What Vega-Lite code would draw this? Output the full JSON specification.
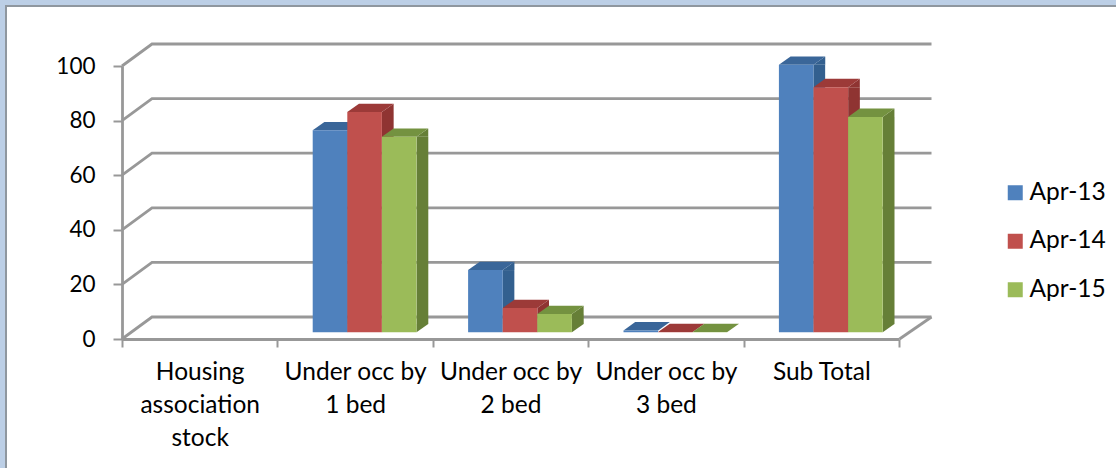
{
"$schema":"https://vega.github.io/schema/vega-lite/v6.json",
"width":777,"height":273,
"autosize":{"type":"none"},
"padding":{"left":122,"top":66,"right":217,"bottom":129},
"background":"#bccfe6",
"config":{"view":{"stroke":null},"font":"Lato",
 "axisY":{"title":null,"grid":false,"labelFontSize":22.5,"labelColor":"#000000","labelFont":"Lato","labelPadding":18,"domainColor":"#989898","domainWidth":2.8,"tickColor":"#989898","tickWidth":2,"tickSize":9}},
"resolve":{"scale":{"color":"independent"}},
"layer":[
{"data":{"values":[{"frame":"chart area"}]},
 "mark":{"type":"point","filled":true,"opacity":1,"size":4,"fill":"#ffffff","stroke":"#8f979f","strokeWidth":2,"shape":"M-504.5,-196.5 L620,-196.5 L620,280 L-504.5,280 Z"}},
{"data":{"values":[{"tick":0},{"tick":20},{"tick":40},{"tick":60},{"tick":80},{"tick":100}]},
 "mark":{"type":"point","filled":false,"opacity":1,"size":4,"stroke":"#989898","strokeWidth":2.8,"shape":"M-388.5,0 L-358.5,-22 L421,-22"},
 "encoding":{"y":{"field":"tick","type":"quantitative","title":null,"scale":{"domain":[0,100]},"axis":{"zindex":1,"values":[0,20,40,60,80,100]}}}},
{"data":{"values":[{"tick":0}]},
 "mark":{"type":"point","filled":false,"opacity":1,"size":4,"stroke":"#989898","strokeWidth":2.8,"shape":"M421,-22 L389,0"},
 "encoding":{"y":{"field":"tick","type":"quantitative","title":null,"scale":{"domain":[0,100]},"axis":{"zindex":1,"values":[0,20,40,60,80,100]}}}},
{"data":{"values":[
{"category":"Housing association stock","series":"Apr-13","value":null},
{"category":"Housing association stock","series":"Apr-14","value":null},
{"category":"Housing association stock","series":"Apr-15","value":null},
{"category":"Under occ by 1 bed","series":"Apr-13","value":74},
{"category":"Under occ by 1 bed","series":"Apr-14","value":80.7},
{"category":"Under occ by 1 bed","series":"Apr-15","value":71.6},
{"category":"Under occ by 2 bed","series":"Apr-13","value":22.8},
{"category":"Under occ by 2 bed","series":"Apr-14","value":8.9},
{"category":"Under occ by 2 bed","series":"Apr-15","value":6.7},
{"category":"Under occ by 3 bed","series":"Apr-13","value":0.7},
{"category":"Under occ by 3 bed","series":"Apr-14","value":0.1},
{"category":"Under occ by 3 bed","series":"Apr-15","value":0.1},
{"category":"Sub Total","series":"Apr-13","value":98},
{"category":"Sub Total","series":"Apr-14","value":89.8},
{"category":"Sub Total","series":"Apr-15","value":78.9}
]},
"resolve":{"scale":{"color":"independent"}},
"encoding":{
 "x":{"field":"category","type":"nominal","sort":null,"title":null,
  "scale":{"domain":["Housing association stock","Under occ by 1 bed","Under occ by 2 bed","Under occ by 3 bed","Sub Total"],"paddingInner":0,"paddingOuter":0},
  "axis":{"zindex":1,"tickBand":"extent","labelAngle":0,"labelFontSize":24.5,"labelColor":"#000000","labelFont":"Lato","labelPadding":13,"labelLineHeight":33,"labelLimit":0,"labelOverlap":false,"labelBound":false,"labelFlush":false,"domainColor":"#989898","domainWidth":2.8,"tickColor":"#989898","tickWidth":2,"tickSize":8,
   "labelExpr":"!datum.value?'':datum.value=='Sub Total'?'Sub Total':datum.value=='Housing association stock'?['Housing','association','stock']:[substring(datum.value,0,12),substring(datum.value,13)]"}},
 "y":{"field":"value","type":"quantitative","title":null,"scale":{"domain":[0,100]},"axis":{"zindex":1,"values":[0,20,40,60,80,100]}}
},
"layer":[
{"transform":[{"filter":"datum.value>=3 && datum.series=='Apr-13'"}],
 "mark":{"type":"bar","width":11.7,"xOffset":-2,"yOffset":-6.7,"y2Offset":-15,"fill":"#33608f"},
 "encoding":{"y2":{"datum":0}}},
{"transform":[{"filter":"datum.value>=3 && datum.series=='Apr-14'"}],
 "mark":{"type":"bar","width":11.7,"xOffset":32.7,"yOffset":-6.7,"y2Offset":-15,"fill":"#8f3432"},
 "encoding":{"y2":{"datum":0}}},
{"transform":[{"filter":"datum.value>=3 && datum.series=='Apr-15'"}],
 "mark":{"type":"bar","width":11.7,"xOffset":67.35,"yOffset":-6.7,"y2Offset":-15,"fill":"#667f37"},
 "encoding":{"y2":{"datum":0}}},
{"transform":[{"filter":"datum.value>=3"}],
 "mark":{"type":"point","filled":true,"opacity":1,"size":4,"strokeWidth":0,"shape":"M17.33,-6.7 L29.03,-6.7 L29.03,-15 Z"},
 "encoding":{"xOffset":{"field":"series","type":"nominal","scale":{"paddingInner":0,"paddingOuter":0.746,"range":[9.5,164.9]}},"color":{"field":"series","type":"nominal","legend":null,"scale":{"range":["#33608f","#8f3432","#667f37"]}}}},
{"transform":[{"filter":"datum.value>=3"}],
 "mark":{"type":"point","filled":true,"opacity":1,"size":4,"strokeWidth":0,"shape":"M17.33,-6.7 L29.03,-15 L17.33,-15 Z"},
 "encoding":{"xOffset":{"field":"series","type":"nominal","scale":{"paddingInner":0,"paddingOuter":0.746,"range":[9.5,164.9]}},"y":{"datum":0,"axis":{"zindex":1,"values":[0,20,40,60,80,100]}},"color":{"field":"series","type":"nominal","legend":null,"scale":{"range":["#33608f","#8f3432","#667f37"]}}}},
{"mark":{"type":"point","filled":true,"opacity":1,"size":4,"strokeWidth":0,"shape":"M-17.33,-6.7 L17.33,-6.7 L29.03,-15 L-5.63,-15 Z"},
 "encoding":{"xOffset":{"field":"series","type":"nominal","scale":{"paddingInner":0,"paddingOuter":0.746,"range":[9.5,164.9]}},"color":{"field":"series","type":"nominal","legend":null,"scale":{"range":["#3a6699","#9c3a38","#749240"]}}}},
{"mark":{"type":"bar","yOffset":-6.7,"y2Offset":-6.7},
 "encoding":{"xOffset":{"field":"series","type":"nominal","scale":{"paddingInner":0,"paddingOuter":0.746,"range":[9.5,164.9]}},"y2":{"datum":0},"color":{"field":"series","type":"nominal","scale":{"range":["#4f81bd","#c0504d","#9bbb59"]},
  "legend":{"title":null,"orient":"none","legendX":881,"legendY":114.5,"symbolType":"square","symbolSize":225,"symbolStrokeWidth":0,"labelFontSize":24.5,"labelFont":"Lato","labelColor":"#000000","labelOffset":2,"rowPadding":23.5}}}}
]}
]}
